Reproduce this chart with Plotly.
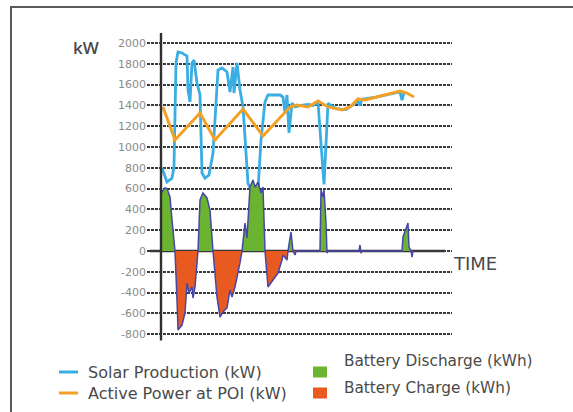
import plotly.graph_objects as go

# Time steps (arbitrary sample index along the day)
solar_t = [1, 6, 11, 13, 15, 17, 21, 26, 27, 29, 31, 33, 36, 39, 41, 44, 48, 52, 57, 61,
           66, 69, 72, 73, 76, 79, 82, 84, 87, 90, 95, 97, 100, 104, 107, 119, 122, 124,
           126, 128, 131, 134, 140, 147, 152, 157, 163, 167, 175, 185, 197, 199, 201,
           215, 230, 239, 241, 243]
solar_kw = [798, 663, 700, 808, 1808, 1913, 1904, 1875, 1548, 1433, 1808, 1837, 1615,
            1500, 750, 700, 730, 942, 1740, 1760, 1721, 1529, 1769, 1519, 1808, 1548,
            1385, 1067, 650, 590, 600, 587, 1067, 1433, 1500, 1500, 1480, 1327, 1500,
            1135, 1423, 1385, 1400, 1410, 1400, 1430, 640, 1420, 1370, 1360, 1440, 1400,
            1460, 1480, 1510, 1530, 1450, 1520]

poi_t = [2, 14, 39, 54, 82, 102, 129, 136, 147, 157, 167, 181, 189, 197, 204, 216, 229,
         239, 246, 253]
poi_kw = [1385, 1067, 1327, 1067, 1365, 1106, 1385, 1404, 1385, 1442, 1385, 1356, 1385,
          1462, 1452, 1481, 1519, 1538, 1519, 1481]

battery_t = [0, 4, 6, 9, 11, 14, 16, 17, 21, 24, 26, 28, 31, 32, 34, 37, 39, 42, 46, 49,
             52, 56, 59, 62, 66, 69, 71, 74, 79, 81, 84, 86, 89, 92, 94, 97, 100, 102,
             104, 107, 112, 117, 121, 122, 126, 127, 130, 132, 134, 135, 159, 160, 162,
             163, 165, 166, 167, 198, 199, 200, 201, 241, 242, 247, 248, 250, 251, 252]
battery_kwh = [560, 606, 600, 519, 298, 0, -471, -760, -712, -596, -308, -404, -346, -452,
               -346, 0, 490, 558, 510, 394, 0, -442, -635, -587, -548, -375, -442, -346,
               -115, 0, 269, 125, 615, 683, 615, 663, 558, 615, 0, -346, -279, -212, -87,
               -38, -87, 0, 183, 0, -38, 0, 0, 587, 519, 587, 269, -20, 0, 0, 58, -20, 0,
               0, 135, 269, 38, 0, -58, 0]

y_ticks = [-800, -600, -400, -200, 0, 200, 400, 600, 800, 1000, 1200, 1400, 1600, 1800, 2000]

legend_lines = [("Solar Production (kW)", "#3aaee2"),
                ("Active Power at POI (kW)", "#f2a124")]
legend_boxes = [("Battery Discharge (kWh)", "#6bb431"),
                ("Battery Charge (kWh)", "#e95a20")]

SOLAR = legend_lines[0][1]
POI = legend_lines[1][1]
GREEN = legend_boxes[0][1]
RED = legend_boxes[1][1]
OUTLINE = "#4646a8"
TXT = "#4a4a4a"

discharge = [max(v, 0) for v in battery_kwh]
charge = [min(v, 0) for v in battery_kwh]

fig = go.Figure()
fig.add_trace(go.Scatter(x=solar_t, y=solar_kw, mode="lines",
                         line=dict(color=SOLAR, width=2.8), showlegend=False))
fig.add_trace(go.Scatter(x=poi_t, y=poi_kw, mode="lines",
                         line=dict(color=POI, width=3), showlegend=False))
fig.add_trace(go.Scatter(x=battery_t, y=discharge, mode="lines", fill="tozeroy",
                         fillcolor=GREEN, line=dict(width=0, color=GREEN), showlegend=False))
fig.add_trace(go.Scatter(x=battery_t, y=charge, mode="lines", fill="tozeroy",
                         fillcolor=RED, line=dict(width=0, color=RED), showlegend=False))
fig.add_trace(go.Scatter(x=battery_t, y=battery_kwh, mode="lines",
                         line=dict(color=OUTLINE, width=1.5), showlegend=False))

shapes = []
# zero baseline, drawn beneath the battery outline
shapes.append(dict(type="line", xref="x", yref="y", x0=-11, x1=284, y0=0, y1=0,
                   line=dict(color="#333333", width=2.6), layer="below"))
# vertical value axis
shapes.append(dict(type="line", xref="x", yref="y", x0=0, x1=0, y0=-860, y1=2095,
                   line=dict(color="#303030", width=2.4), layer="above"))
# outer frame
shapes.append(dict(type="path", xref="paper", yref="paper",
                   path="M %f,0 L %f,%f L 1.01,%f" % (11 / 573, 11 / 573, 1 - 7 / 412, 1 - 7 / 412),
                   line=dict(color="#5a5a5a", width=2)))

annotations = [
    dict(text="kW", xref="paper", yref="paper", x=86 / 573, y=1 - 48 / 412,
         showarrow=False, font=dict(family="Open Sans", size=17, color=TXT, weight=600),
         xanchor="center", yanchor="middle"),
    dict(text="TIME", xref="paper", yref="paper", x=475 / 573, y=1 - 263 / 412,
         showarrow=False, font=dict(family="DejaVu Sans", size=18, color=TXT),
         xanchor="center", yanchor="middle"),
]

# legend drawn as swatches + labels
for i, (label, color) in enumerate(legend_lines):
    yc = [372, 393][i]
    shapes.append(dict(type="line", xref="paper", yref="paper",
                       x0=59 / 573, x1=78 / 573, y0=1 - yc / 412, y1=1 - yc / 412,
                       line=dict(color=color, width=3)))
    annotations.append(dict(text=label, xref="paper", yref="paper", x=86 / 573,
                            y=1 - yc / 412, showarrow=False, xanchor="left", yanchor="middle",
                            font=dict(family="DejaVu Sans", size=16, color=TXT)))
for i, (label, color) in enumerate(legend_boxes):
    yc = [372, 393][i]
    ty = [361, 388][i]
    shapes.append(dict(type="rect", xref="paper", yref="paper",
                       x0=313 / 573, x1=327 / 573, y0=1 - (yc + 5.5) / 412, y1=1 - (yc - 5.5) / 412,
                       fillcolor=color, line=dict(width=0)))
    annotations.append(dict(text=label, xref="paper", yref="paper", x=342 / 573,
                            y=1 - ty / 412, showarrow=False, xanchor="left", yanchor="middle",
                            font=dict(family="DejaVu Sans", size=15.3, color=TXT)))

fig.update_layout(
    width=573, height=412,
    margin=dict(l=0, r=0, t=0, b=0),
    paper_bgcolor="white", plot_bgcolor="white",
    shapes=shapes, annotations=annotations,
    xaxis=dict(domain=[147 / 573, 452 / 573], range=[-14, 291], showgrid=False,
               zeroline=False, showticklabels=False, showline=False, fixedrange=True),
    yaxis=dict(domain=[(412 - 344.6) / 412, (412 - 32.6) / 412], range=[-900, 2100],
               tickvals=y_ticks, ticktext=[str(v) for v in y_ticks],
               showgrid=True, gridcolor="#3a3a3a", gridwidth=1.7, griddash="3px,1px",
               zeroline=False, showline=False, ticks="",
               tickfont=dict(family="DejaVu Sans", size=11, color="#8a8a8a")),
)

fig.write_html("out.html")
